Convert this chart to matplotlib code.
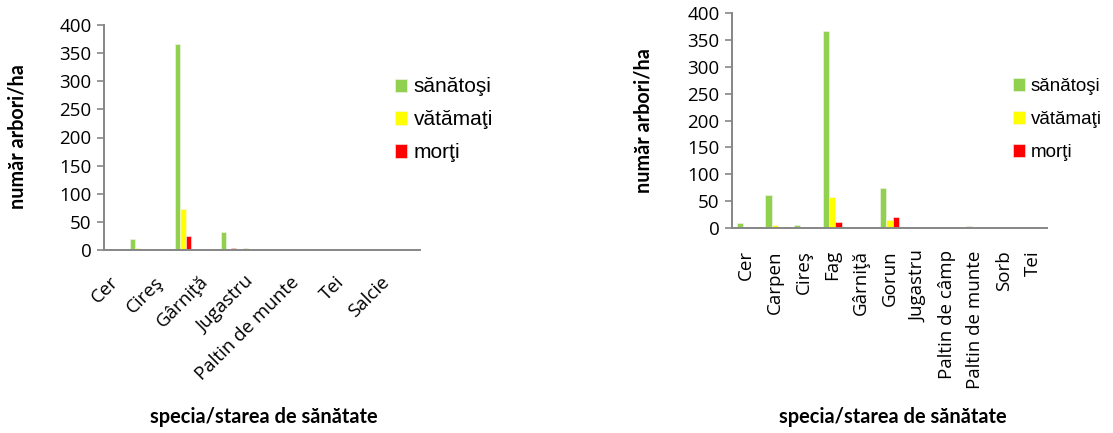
import numpy as np
import matplotlib
matplotlib.use('Agg')
import matplotlib.pyplot as plt

# left chart: 14 species, labels shown every other one
species_a = ['Cer', 'Carpen', 'Cireş', 'Fag', 'Gârniţă', 'Gorun', 'Jugastru',
             'Paltin de câmp', 'Paltin de munte', 'Sorb', 'Tei', 'Plop', 'Salcie', 'Ulm']
sanatosi_a = [0, 19, 1, 367, 0, 32, 4, 0, 0, 1, 0, 0, 0, 0]
vatamati_a = [0, 4, 0, 72, 0, 1, 1, 0, 0, 0, 0, 0, 0, 0]
morti_a = [0, 0, 0, 24, 0, 4, 0, 0, 0, 0, 0, 0, 0, 0]

# right chart: 11 species
species_b = ['Cer', 'Carpen', 'Cireş', 'Fag', 'Gârniţă', 'Gorun', 'Jugastru',
             'Paltin de câmp', 'Paltin de munte', 'Sorb', 'Tei']
sanatosi_b = [9, 61, 6, 366, 1, 75, 0, 0, 4, 1, 0]
vatamati_b = [0, 6, 1, 57, 0, 14, 0, 0, 0, 0, 0]
morti_b = [0, 0, 0, 12, 0, 20, 0, 0, 0, 0, 0]

series_names = ['sănătoşi', 'vătămaţi', 'morţi']
colors = ['#92D050', '#FFFF00', '#FF0000']
yticks = [0, 50, 100, 150, 200, 250, 300, 350, 400]

W, H = 1113, 433
fig = plt.figure(figsize=(W/100, H/100), dpi=100)
renderer = fig.canvas.get_renderer()

def px_axes(x0, y0, x1, y1):
    # pixel box (top-left origin) -> figure axes
    return fig.add_axes([x0/W, 1 - y1/H, (x1 - x0)/W, (y1 - y0)/H])

ax1 = px_axes(104, 25, 420, 250)
ax2 = px_axes(732, 13, 1047, 228)

tick_font = 'Open Sans'
axis_grey = '#868686'

def draw(ax, names, data, fs_tick, fs_leg, step, rot, pad, leg_xy, labelspacing, hsize):
    x = np.arange(len(names))
    w = 1/4.5
    for k, (vals, c, lab) in enumerate(zip(data, colors, series_names)):
        ax.bar(x + (k - 1)*w, vals, width=w, color=c, edgecolor='#f4f4f4',
               linewidth=0.4, label=lab)
    ax.set_xlim(-0.5, len(names) - 0.5)
    ax.set_ylim(0, 400)
    ax.set_yticks(yticks)
    ax.set_yticklabels([str(v) for v in yticks], fontsize=fs_tick, family=tick_font)
    ax.set_xticks(x[::step])
    if rot == 45:
        ax.set_xticklabels(names[::step], rotation=45, ha='right', va='center',
                           rotation_mode='anchor', fontsize=fs_tick, family=tick_font)
    else:
        ax.set_xticklabels(names[::step], rotation=90, ha='center', va='top',
                           fontsize=fs_tick, family=tick_font)
    ax.tick_params(axis='x', length=0, pad=pad)
    ax.tick_params(axis='y', length=5, width=1.2, color=axis_grey, pad=4)
    for s in ['top', 'right']:
        ax.spines[s].set_visible(False)
    for s in ['left', 'bottom']:
        ax.spines[s].set_color(axis_grey)
        ax.spines[s].set_linewidth(1.4)
    ax.legend(loc='center left', bbox_to_anchor=leg_xy, frameon=False,
              prop={'family': 'Liberation Sans', 'size': fs_leg},
              handlelength=hsize, handleheight=hsize, handletextpad=0.3,
              labelspacing=labelspacing, borderpad=0, borderaxespad=0)

draw(ax1, species_a, [sanatosi_a, vatamati_a, morti_a], 13.5, 15, 2, 45, 21,
     (0.92, 0.578), 0.67, 0.6)
draw(ax2, species_b, [sanatosi_b, vatamati_b, morti_b], 13.5, 13.5, 1, 90, 16,
     (0.892, 0.505), 0.85, 0.65)

def label(x, y, s, length, rot=0):
    t = fig.text(x/W, 1 - y/H, s, rotation=rot, ha='center', va='center',
                 family='Lato', fontweight='bold', fontsize=14)
    bb = t.get_window_extent(renderer)
    t.set_fontsize(14*length/max(bb.width, bb.height))
    return t

label(18, 137, 'număr arbori/ha', 145, 90)
label(644, 121, 'număr arbori/ha', 145, 90)
label(264, 417, 'specia/starea de sănătate', 229)
label(893, 417, 'specia/starea de sănătate', 229)

fig.savefig('out.png', dpi=100)
